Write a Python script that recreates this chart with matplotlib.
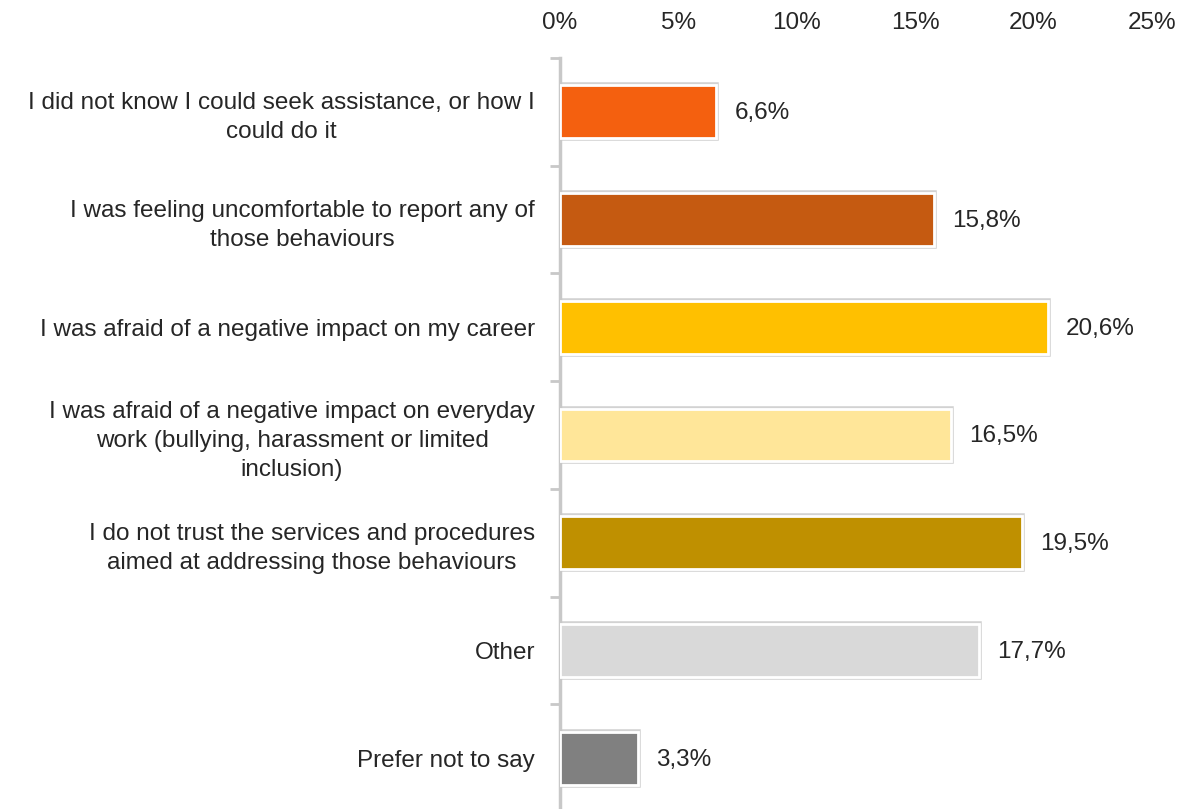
import matplotlib.pyplot as plt
from matplotlib.ticker import FuncFormatter

categories = [
    "I did not know I could seek assistance, or how I\ncould do it",
    "I was feeling uncomfortable to report any of\nthose behaviours",
    "I was afraid of a negative impact on my career",
    "I was afraid of a negative impact on everyday\nwork (bullying, harassment or limited\ninclusion)",
    "I do not trust the services and procedures\naimed at addressing those behaviours",
    "Other",
    "Prefer not to say",
]
values = [6.6, 15.8, 20.6, 16.5, 19.5, 17.7, 3.3]
colors = ["#F4600F", "#C55A11", "#FFC000", "#FFE699", "#BF9000", "#D9D9D9", "#808080"]
xticks = [0, 5, 10, 15, 20, 25]

plt.rcParams['font.family'] = ['Liberation Sans', 'DejaVu Sans']
text_color = "#262626"
fs = 17.5

fig = plt.figure(figsize=(11.79, 8.09), dpi=100)
ax = fig.add_axes([560 / 1179, 1 - 812 / 809, (1152 - 560) / 1179, (812 - 58) / 809])

y = list(range(len(categories)))
# outer light gray outline, then the bar with a white edge on top
ax.barh(y, values, height=0.49, color="none", edgecolor="#d2d2d2", linewidth=4, zorder=2)
ax.barh(y, values, height=0.49, color=colors, edgecolor="white", linewidth=2, zorder=3)

for yi, v in zip(y, values):
    ax.annotate(f"{v:.1f}%".replace(".", ","), (v, yi), xytext=(13, -1),
                textcoords="offset points", va="center", ha="left",
                fontsize=fs, color=text_color)

ax.set_xlim(0, 25)
ax.set_ylim(len(categories) - 0.5, -0.5)
ax.set_xticks(xticks)
ax.xaxis.set_major_formatter(FuncFormatter(lambda x, p: f"{x:.0f}%"))
ax.xaxis.tick_top()
ax.tick_params(axis="x", length=0, pad=17, labelsize=fs, labelcolor=text_color)

ax.set_yticks(y)
ax.set_yticklabels(categories, multialignment="center", linespacing=1.4)
ax.tick_params(axis="y", length=0, pad=18, labelsize=fs, labelcolor=text_color)
ax.set_yticks([i - 0.5 for i in range(len(categories) + 1)], minor=True)
ax.tick_params(axis="y", which="minor", length=7, width=2, color="#c8c8c8")

for s in ["top", "right", "bottom"]:
    ax.spines[s].set_visible(False)
ax.spines["left"].set_color("#c8c8c8")
ax.spines["left"].set_linewidth(2.5)

fig.savefig("out.png", dpi=100)
